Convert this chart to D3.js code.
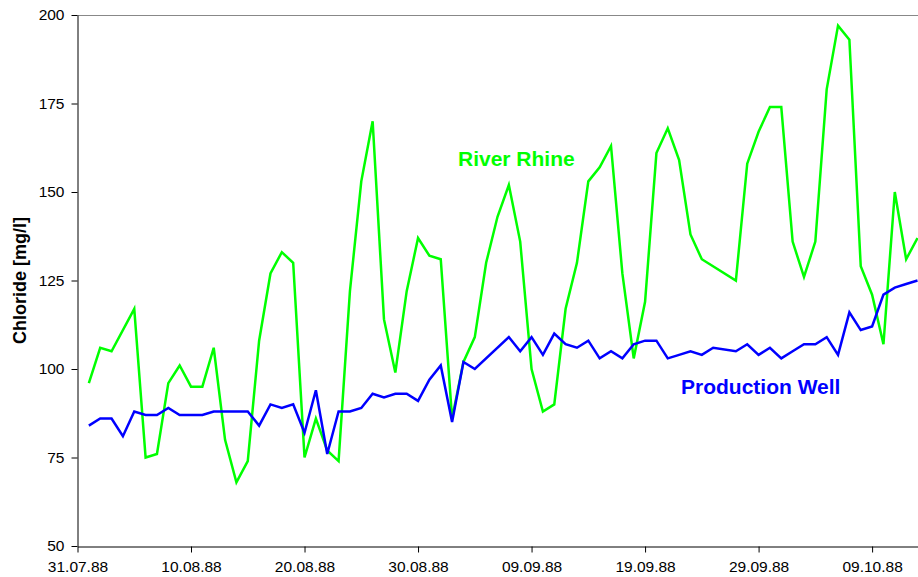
<!DOCTYPE html>
<html>
<head>
<meta charset="utf-8">
<script src="https://cdn.jsdelivr.net/npm/d3@7"></script>
<style>
  html, body { margin: 0; padding: 0; background: #fff; }
  svg { display: block; font-family: "Liberation Sans", Arial, sans-serif; }
</style>
</head>
<body>
<svg id="chart" width="918" height="577"></svg>
<script>
// Daily chloride measurements, August–October 1988 (null = no sample that day)
const startDate = "31.07.88";
const dayOffsets = d3.range(1, 75);
const rhine = [
  96, 106, 105, null, 117, 75, 76, 96, 101, 95,
  95, 106, 80, 68, 74, 108, 127, 133, 130, 75,
  86, 77, 74, 122, 153, 170, 114, 99, 122, 137,
  132, 131, 86, 102, 109, 130, 143, 152, 136, 100,
  88, 90, 117, 130, 153, 157, 163, 127, 103, 119,
  161, 168, 159, 138, 131, null, null, 125, 158, 167,
  174, 174, 136, 126, 136, 179, 197, 193, 129, 121,
  107, 150, 131, 137
];
const well = [
  84, 86, 86, 81, 88, 87, 87, 89, 87, 87,
  87, 88, 88, 88, 88, 84, 90, 89, 90, 82,
  94, 76, 88, 88, 89, 93, 92, 93, 93, 91,
  97, 101, 85, 102, 100, null, null, 109, 105, 109,
  104, 110, 107, 106, 108, 103, 105, 103, 107, 108,
  108, 103, 104, 105, 104, 106, null, 105, 107, 104,
  106, 103, 105, 107, 107, 109, 104, 116, 111, 112,
  121, 123, 124, 125
];
const xTickLabels = ["31.07.88", "10.08.88", "20.08.88", "30.08.88", "09.09.88",
                     "19.09.88", "29.09.88", "09.10.88"];
const yTicks = [50, 75, 100, 125, 150, 175, 200];

const parse = d3.utcParse("%d.%m.%y");
const fmt = d3.utcFormat("%d.%m.%y");
const t0 = parse(startDate);
const dates = dayOffsets.map(d => d3.utcDay.offset(t0, d));

const margin = { left: 77.5, right: 917.5, top: 15, bottom: 546 };
const svg = d3.select("#chart");

const x = d3.scaleUtc()
  .domain([t0, d3.utcDay.offset(t0, 74)])
  .range([margin.left, margin.right]);
const y = d3.scaleLinear()
  .domain([50, 200])
  .range([margin.bottom, margin.top]);

// top frame line
svg.append("line")
  .attr("x1", margin.left).attr("x2", 918)
  .attr("y1", y(200) + 0.5).attr("y2", y(200) + 0.5)
  .attr("stroke", "#888").attr("stroke-width", 1);

// y axis
const yAxis = svg.append("g")
  .attr("transform", `translate(${margin.left},0)`)
  .call(d3.axisLeft(y).tickValues(yTicks).tickSize(6).tickPadding(7).tickSizeOuter(0));
yAxis.select(".domain").attr("stroke", "#000");
yAxis.selectAll(".tick line").attr("stroke", "#000");
yAxis.selectAll("text").attr("font-size", 15.5).attr("fill", "#000")
  .attr("font-family", "Liberation Sans, Arial, sans-serif");

// x axis
const xAxis = svg.append("g")
  .attr("transform", `translate(0,${margin.bottom + 0.5})`)
  .call(d3.axisBottom(x)
    .tickValues(xTickLabels.map(parse))
    .tickFormat(fmt)
    .tickSize(6).tickPadding(8).tickSizeOuter(0));
xAxis.select(".domain").attr("stroke", "#000");
xAxis.selectAll(".tick line").attr("stroke", "#000");
xAxis.selectAll("text").attr("font-size", 15.5).attr("fill", "#000")
  .attr("font-family", "Liberation Sans, Arial, sans-serif");

// y axis title
svg.append("text")
  .attr("transform", `translate(26,${(margin.top + margin.bottom) / 2}) rotate(-90)`)
  .attr("text-anchor", "middle")
  .attr("font-size", 18).attr("font-weight", "bold").attr("fill", "#000")
  .text("Chloride [mg/l]");

// series lines (gaps bridged by skipping missing days)
function series(values) {
  return dates.map((d, i) => ({ date: d, v: values[i] })).filter(p => p.v !== null);
}
const line = d3.line().x(p => x(p.date)).y(p => y(p.v));

svg.append("path")
  .datum(series(rhine))
  .attr("d", line)
  .attr("fill", "none").attr("stroke", "#00ff00")
  .attr("stroke-width", 2.5).attr("stroke-linejoin", "miter");

svg.append("path")
  .datum(series(well))
  .attr("d", line)
  .attr("fill", "none").attr("stroke", "#0000ff")
  .attr("stroke-width", 2.5).attr("stroke-linejoin", "miter");

// series labels
svg.append("text")
  .attr("x", 458).attr("y", 166)
  .attr("font-size", 21).attr("font-weight", "bold").attr("fill", "#00ff00")
  .text("River Rhine");
svg.append("text")
  .attr("x", 681).attr("y", 394)
  .attr("font-size", 21).attr("font-weight", "bold").attr("fill", "#0000ff")
  .text("Production Well");
</script>
</body>
</html>
